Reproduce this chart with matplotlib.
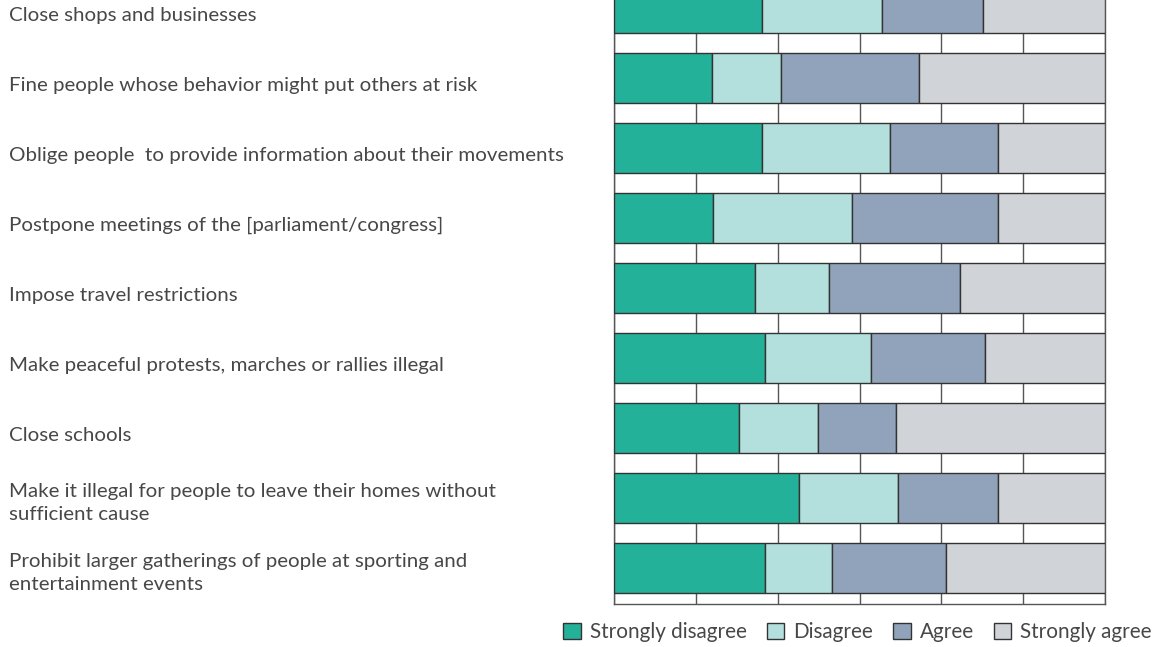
import numpy as np
import matplotlib.pyplot as plt
from matplotlib.patches import Patch
from matplotlib.transforms import blended_transform_factory

categories = [
    "Close shops and businesses",
    "Fine people whose behavior might put others at risk",
    "Oblige people  to provide information about their movements",
    "Postpone meetings of the [parliament/congress]",
    "Impose travel restrictions",
    "Make peaceful protests, marches or rallies illegal",
    "Close schools",
    "Make it illegal for people to leave their homes without\nsufficient cause",
    "Prohibit larger gatherings of people at sporting and\nentertainment events",
]
strongly_disagree = [30.1, 19.9, 30.1, 20.2, 28.7, 30.8, 25.4, 37.6, 30.7]
disagree = [24.4, 14.2, 26.1, 28.3, 15.1, 21.6, 16.2, 20.2, 13.6]
agree = [20.7, 28.1, 22.0, 29.7, 26.7, 23.2, 15.8, 20.4, 23.3]
strongly_agree = [24.8, 37.8, 21.8, 21.8, 29.5, 24.4, 42.6, 21.8, 32.4]

series = [strongly_disagree, disagree, agree, strongly_agree]
names = ["Strongly disagree", "Disagree", "Agree", "Strongly agree"]
colors = ["#23b199", "#b3e0dd", "#91a3bb", "#d0d3d8"]

plt.rcParams['font.family'] = ['Lato', 'DejaVu Sans']

W, H = 1159, 647
fig = plt.figure(figsize=(W / 100, H / 100), dpi=100)
ax = fig.add_axes([614 / W, (H - 604) / H, (1105 - 614) / W, 604 / H])

y = np.arange(len(categories))
left = np.zeros(len(categories))
for vals, c in zip(series, colors):
    ax.barh(y, vals, left=left, height=50 / 70, color=c,
            edgecolor="#333333", linewidth=1, zorder=3)
    left += np.array(vals)

ax.set_xlim(0, 100)
ax.set_ylim(8.514, -0.114)
ax.set_xticks(np.linspace(0, 100, 7))
ax.set_yticks([])
ax.tick_params(axis='x', length=0, labelbottom=False)
ax.grid(axis='x', color="#555555", linewidth=1, zorder=0)
for s in ['left', 'right', 'bottom']:
    ax.spines[s].set_color("#555555")
    ax.spines[s].set_linewidth(1)
ax.spines['top'].set_visible(False)

tr = blended_transform_factory(fig.transFigure, ax.transData)
for i, lab in enumerate(categories):
    off = 0.07 if "\n" in lab else 0.11
    ax.text(9 / W, i + off, lab, transform=tr, ha='left', va='center',
            fontsize=14.75, color="#474747", linespacing=1.4)

handles = [Patch(facecolor=c, edgecolor="#333333", linewidth=1) for c in colors]
leg = fig.legend(handles, names, loc='center right',
                 bbox_to_anchor=(1152 / W, 1 - 632 / H), ncol=4, frameon=False,
                 fontsize=14.9, handlelength=0.85, handleheight=0.85,
                 handletextpad=0.45, columnspacing=0.95, borderaxespad=0,
                 borderpad=0)
for t in leg.get_texts():
    t.set_color("#474747")

fig.savefig("out.png", dpi=100)
